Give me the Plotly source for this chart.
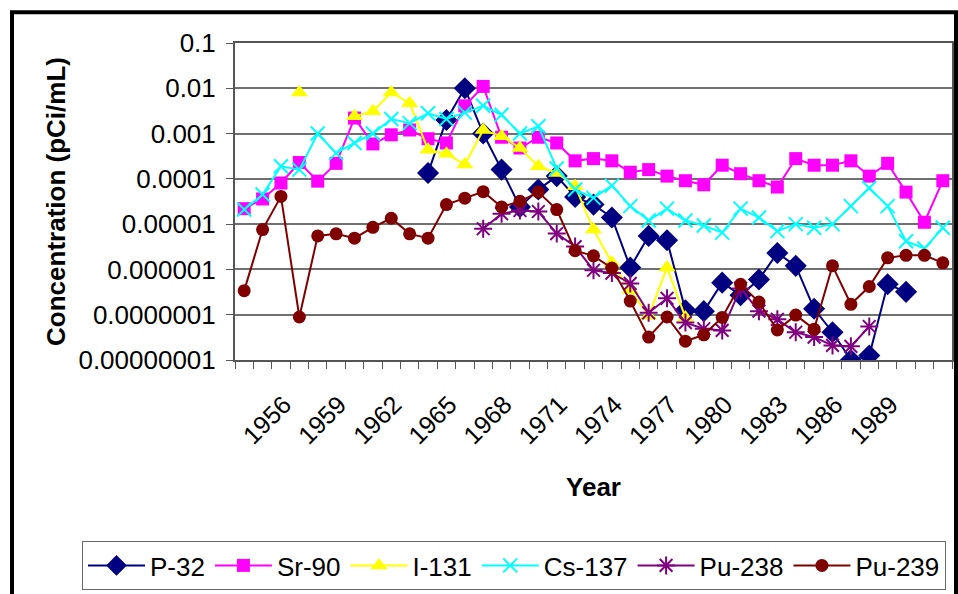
import plotly.graph_objects as go

years = list(range(1954, 1993))

p32 = [None]*10 + [1.35e-4, 2.0e-3, 1.0e-2, 1.0e-3, 1.6e-4, 2.4e-5, 5.8e-5, 1.15e-4, 4.0e-5, 2.7e-5,
                   1.4e-5, 1.1e-6, 5.5e-6, 4.4e-6, 1.25e-7, 1.2e-7, 5.1e-7, 2.7e-7, 6.0e-7, 2.3e-6,
                   1.2e-6, 1.35e-7, 4.1e-8, 1.0e-8, 1.25e-8, 4.7e-7, 3.2e-7, None, None]
sr90 = [2.2e-5, 3.6e-5, 8.1e-5, 2.3e-4, 8.9e-5, 2.2e-4, 2.2e-3, 5.9e-4, 9.4e-4, 1.2e-3,
        7.7e-4, 6.2e-4, 4.1e-3, 1.1e-2, 8.3e-4, 4.8e-4, 8.3e-4, 6.2e-4, 2.5e-4, 2.8e-4,
        2.5e-4, 1.4e-4, 1.6e-4, 1.15e-4, 9.1e-5, 7.4e-5, 2.0e-4, 1.3e-4, 9.1e-5, 6.6e-5,
        2.8e-4, 2.0e-4, 2.0e-4, 2.5e-4, 1.15e-4, 2.2e-4, 5.1e-5, 1.1e-5, 9.1e-5]
i131 = [None, None, None, 8.1e-3, None, None, 2.4e-3, 3.1e-3, 8.1e-3, 4.7e-3,
        4.4e-4, 3.6e-4, 2.07e-4, 1.2e-3, 8.7e-4, 4.8e-4, 1.9e-4, 1.35e-4, 6.9e-5, 7.6e-6,
        1.4e-6, 3.5e-7, 9.5e-8, 1.1e-6, 8.7e-8] + [None]*14
cs137 = [2.1e-5, 4.5e-5, 1.9e-4, 1.6e-4, 1.0e-3, 3.7e-4, 6.2e-4, 1.0e-3, 2.1e-3, 1.7e-3,
         2.8e-3, 2.1e-3, 2.9e-3, 4.1e-3, 2.6e-3, 1.0e-3, 1.45e-3, 1.7e-4, 5.8e-5, 3.8e-5,
         7.1e-5, 2.5e-5, 1.2e-5, 2.2e-5, 1.2e-5, 9.3e-6, 6.5e-6, 2.2e-5, 1.4e-5, 7.0e-6,
         1.0e-5, 8.3e-6, 1.0e-5, 2.5e-5, 6.3e-5, 2.5e-5, 4.2e-6, 2.9e-6, 8.3e-6]
pu238 = [None]*13 + [7.9e-6, 1.7e-5, 2.0e-5, 1.9e-5, 6.2e-6, 3.2e-6, 9.6e-7,
                     8.3e-7, 4.9e-7, 1.1e-7, 2.3e-7, 6.7e-8, 4.9e-8, 4.5e-8, 3.8e-7, 1.2e-7, 7.9e-8,
                     4.1e-8, 3.2e-8, 2.1e-8, 2.0e-8, 5.5e-8, None, None, None, None]
pu239 = [3.4e-7, 7.6e-6, 4.1e-5, 8.9e-8, 5.5e-6, 6.1e-6, 4.9e-6, 8.5e-6, 1.35e-5, 6.1e-6,
         4.9e-6, 2.7e-5, 3.75e-5, 5.2e-5, 2.4e-5, 3.2e-5, 5.1e-5, 2.1e-5, 2.6e-6, 2.0e-6,
         1.07e-6, 2.0e-7, 3.2e-8, 8.9e-8, 2.6e-8, 3.6e-8, 8.7e-8, 4.7e-7, 1.9e-7, 4.6e-8,
         9.8e-8, 4.8e-8, 1.2e-6, 1.7e-7, 4.2e-7, 1.8e-6, 2.05e-6, 2.05e-6, 1.4e-6]

x_tick_years = list(range(1956, 1990, 3))
y_tick_vals = [1e-1, 1e-2, 1e-3, 1e-4, 1e-5, 1e-6, 1e-7, 1e-8]
y_tick_text = ["0.1", "0.01", "0.001", "0.0001", "0.00001", "0.000001", "0.0000001", "0.00000001"]

series = [
    ("P-32", p32, "#000080", "diamond", 17, None),
    ("Sr-90", sr90, "#FF00FF", "square", 13, None),
    ("I-131", i131, "#FFFF00", "triangle-up", 15, None),
    ("Cs-137", cs137, "#00FFFF", "x-thin-open", 14, 2),
    ("Pu-238", pu238, "#800080", "asterisk-open", 15, 2),
    ("Pu-239", pu239, "#800000", "circle", 13, None),
]

FONT = "Liberation Sans, Arial, sans-serif"

fig = go.Figure()
for name, vals, color, sym, size, lw in series:
    marker = dict(symbol=sym, size=size, color=color)
    if lw:
        marker["line"] = dict(color=color, width=lw)
    else:
        marker["line"] = dict(width=0)
    fig.add_trace(go.Scatter(x=years, y=vals, name=name, mode="lines+markers",
                             line=dict(color=color, width=2), marker=marker,
                             connectgaps=False))

fig.update_layout(
    width=958, height=594,
    margin=dict(l=235, r=6, t=43, b=233),
    paper_bgcolor="white", plot_bgcolor="white",
    font=dict(family=FONT, size=24, color="black"),
    showlegend=True,
    legend=dict(orientation="h", x=-0.2134, y=-0.566, xanchor="left", yanchor="top",
                bordercolor="#666666", borderwidth=1, font=dict(size=26),
                itemwidth=57, tracegroupgap=0),
    shapes=[dict(type="rect", xref="paper", yref="paper",
                 x0=-0.311, x1=1.0056, y0=-0.8, y1=1.097,
                 line=dict(color="black", width=4), fillcolor="rgba(0,0,0,0)", layer="above")],
)

fig.update_xaxes(
    range=[1953.5, 1992.5], tickmode="array", tickvals=x_tick_years,
    ticktext=[str(y) for y in x_tick_years], tickangle=-45, ticks="",
    tickfont=dict(size=25), ticklabelstandoff=18, ticklabelshift=3,
    showgrid=False, zeroline=False, showline=True, linecolor="#555555", linewidth=2, mirror=True,
    minor=dict(ticks="outside", ticklen=7, tick0=1953.5, dtick=1, tickcolor="#555555",
               tickwidth=1, showgrid=False),
    title=dict(text="<b>Year</b>", font=dict(size=26), standoff=30),
    automargin=False,
)
fig.update_yaxes(
    type="log", range=[-8, -1], tickmode="array", tickvals=y_tick_vals, ticktext=y_tick_text,
    ticks="outside", ticklen=7, tickcolor="#555555", tickfont=dict(size=26), ticklabelstandoff=5,
    showgrid=True, gridcolor="#707070", gridwidth=1.5,
    showline=True, linecolor="#555555", linewidth=2, mirror=True, zeroline=False,
    title=dict(text="<b>Concentration (pCi/mL)</b>", font=dict(size=26), standoff=5),
    automargin=False,
)

fig.write_html("out.html", config={"displayModeBar": False},
               post_script="document.body.style.margin='0';")
